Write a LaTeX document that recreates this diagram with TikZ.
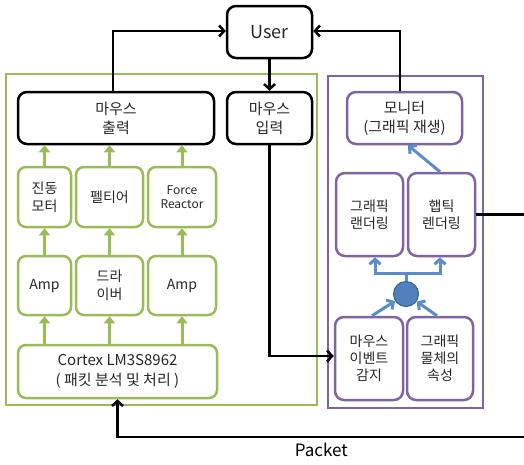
\documentclass[tikz,border=0pt]{standalone}
\usepackage{fontspec}
\setmainfont{Noto Sans CJK KR}
\usetikzlibrary{arrows.meta}
\definecolor{hgreen}{HTML}{9BBB59}
\definecolor{hpurple}{HTML}{8064A2}
\definecolor{hblue}{HTML}{4F81BD}
\definecolor{hblueline}{HTML}{5A8CCB}
\definecolor{hbluedark}{HTML}{385D8A}
\definecolor{htext}{HTML}{262626}
\begin{document}
\begin{tikzpicture}[x=1pt,y=-1pt,
  every node/.style={text=htext,align=center,inner sep=0pt},
  blkbox/.style={draw=black,line width=2.5pt,rounded corners=9pt,font=\fontsize{15}{19}\selectfont},
  grnbox/.style={draw=hgreen,line width=2.5pt,rounded corners=8pt,font=\fontsize{14}{18}\selectfont},
  purbox/.style={draw=hpurple,line width=2.5pt,rounded corners=9pt,font=\fontsize{14}{17}\selectfont},
  blkarr/.style={draw=black,line width=2.5pt,-{Straight Barb[length=5pt,width=11pt]}},
  grnarr/.style={draw=hgreen,line width=3pt,-{Triangle[length=7pt,width=11pt]}},
  bluarr/.style={draw=hblueline,line width=3pt,-{Straight Barb[length=5pt,width=11pt]}}]
\useasboundingbox (0,0) rectangle (524,464);
% frames of the two parts
\draw[hgreen,line width=2.5pt] (6,74) rectangle (317,405);
\draw[hpurple,line width=2.5pt] (328,76) rectangle (483,408);
% top row
\node[blkbox,minimum width=85,minimum height=52,font=\fontsize{18}{20}\selectfont] (user) at (269.5,32) {User};
\node[blkbox,minimum width=196,minimum height=52] (mout) at (116,118) {마우스\\출력};
\node[blkbox,minimum width=85,minimum height=52] (min) at (269.5,118) {마우스\\입력};
\node[purbox,minimum width=115,minimum height=52,font=\fontsize{15}{19}\selectfont] (mon) at (404.5,118) {모니터\\(그래픽 재생)};
% green part
\node[grnbox,minimum width=53,minimum height=60] (vib) at (44.5,197) {진동\\모터};
\node[grnbox,minimum width=67,minimum height=60] (pel) at (109.5,197) {펠티어};
\node[grnbox,minimum width=68,minimum height=60,font=\fontsize{12}{14}\selectfont] (force) at (182,197) {Force\\Reactor};
\node[grnbox,minimum width=53,minimum height=59] (amp1) at (44.5,285.5) {Amp};
\node[grnbox,minimum width=67,minimum height=59] (drv) at (109.5,285.5) {드라\\이버};
\node[grnbox,minimum width=68,minimum height=59] (amp2) at (182,285.5) {Amp};
\node[grnbox,minimum width=199,minimum height=53,font=\fontsize{15}{20}\selectfont] (cortex) at (117.5,371.5) {Cortex LM3S8962\\( 패킷 분석 및 처리 )};
% purple part
\node[purbox,minimum width=67,minimum height=83] (grend) at (369.5,214.5) {그래픽\\랜더링};
\node[purbox,minimum width=67,minimum height=83] (hrend) at (441.5,214.5) {햅틱\\렌더링};
\node[purbox,minimum width=68,minimum height=83] (mev) at (369,358.5) {마우스\\이벤트\\감지};
\node[purbox,minimum width=66,minimum height=83] (gprop) at (440,358.5) {그래픽\\물체의\\속성};
\node[circle,draw=hbluedark,line width=1pt,fill=hblue,minimum size=25] (hub) at (406,294) {};
\coordinate (split) at (406,273);
\coordinate (pk) at (525,437);
% green arrows
\foreach \t/\b in {vib/amp1,pel/drv,force/amp2}{
  \draw[grnarr] (\b.north) -- (\t.south);
  \draw[grnarr] (\t.north) -- (\t.north |- mout.south);
  \draw[grnarr] (\b.south |- cortex.north) -- (\b.south);
}
% blue arrows
\draw[hblueline,line width=3pt] (hub) -- (split);
\draw[bluarr] (split) -| ([xshift=5.5pt]grend.south);
\draw[bluarr] (split) -| ([xshift=-1.5pt]hrend.south);
\draw[bluarr] ([xshift=3pt]mev.north) -- (hub);
\draw[bluarr] ([xshift=-3pt]gprop.north) -- (hub);
\draw[bluarr] ([xshift=-1.5pt]hrend.north) -- ([xshift=3.5pt]mon.south);
% black arrows
\draw[blkarr] ([xshift=-3pt]mout.north) |- ([yshift=1pt]user.west);
\draw[blkarr] ([xshift=-4.5pt]mon.north) |- ([yshift=1pt]user.east);
\draw[blkarr] (user) -- (min);
\draw[blkarr] (min.south) |- ([yshift=2.5pt]mev.west);
\draw[blkarr] (hrend.east) -| (pk) -- (pk -| cortex.south)
  node[midway,below=5pt,font=\fontsize{17}{19}\selectfont,text=black] {Packet}
  -- (cortex.south);
\end{tikzpicture}
\end{document}
